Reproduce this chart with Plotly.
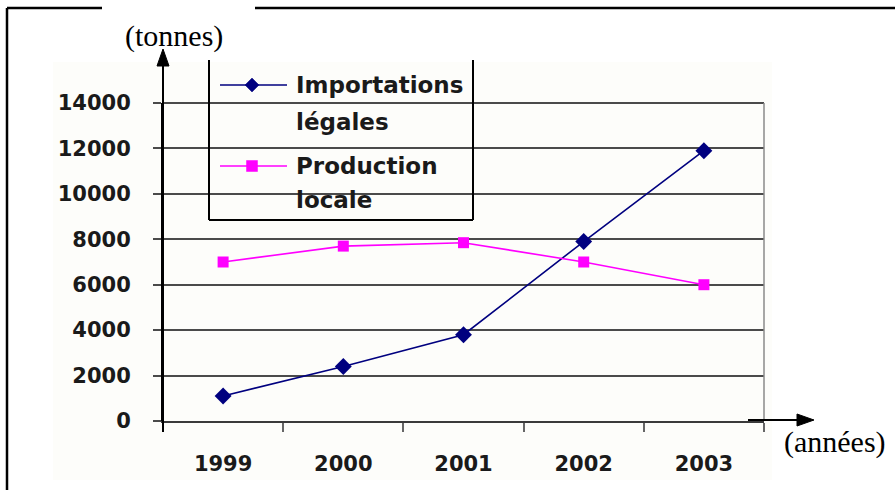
import plotly.graph_objects as go

# Data
years = ["1999", "2000", "2001", "2002", "2003"]
importations = [1100, 2400, 3800, 7900, 11900]
production = [7000, 7700, 7850, 7000, 6000]
y_ticks = [0, 2000, 4000, 6000, 8000, 10000, 12000, 14000]

W, H = 895, 490
L, R, T, B = 163, 764, 103, 421  # plot area in pixels


def px(x):
    return (x - L) / (R - L)


def py(y):
    return (B - y) / (B - T)


NAVY = "#00007F"
MAGENTA = "#FF00FF"
INK = "#1a1a1a"
GRID = "#4a4a4a"

fig = go.Figure()
fig.add_trace(go.Scatter(
    x=years, y=importations, mode="lines+markers", name="Importations légales",
    line=dict(color=NAVY, width=1.6),
    marker=dict(symbol="diamond", size=13, color=NAVY),
    showlegend=False,
))
fig.add_trace(go.Scatter(
    x=years, y=production, mode="lines+markers", name="Production locale",
    line=dict(color=MAGENTA, width=1.6),
    marker=dict(symbol="square", size=11, color=MAGENTA),
    showlegend=False,
))

shapes = []
# faint chart-area tint
shapes.append(dict(type="rect", xref="paper", yref="paper", layer="below",
                   x0=px(53), x1=px(772), y0=py(480), y1=py(62),
                   fillcolor="#fdfdfa", line=dict(width=0)))
# top gridline of the plot area
shapes.append(dict(type="line", xref="paper", yref="paper", layer="below",
                   x0=0, x1=1, y0=1, y1=1, line=dict(color=GRID, width=1.8)))
# plot-area right border
shapes.append(dict(type="line", xref="paper", yref="paper",
                   x0=1, x1=1, y0=0, y1=1, line=dict(color="#8a8a8a", width=1.5)))
# y axis with arrow
shapes.append(dict(type="line", xref="paper", yref="paper",
                   x0=0, x1=0, y0=py(432), y1=py(60), line=dict(color="black", width=2)))
shapes.append(dict(type="path", xref="paper", yref="paper",
                   path=f"M {px(163)} {py(49)} L {px(157)} {py(66)} L {px(169)} {py(66)} Z",
                   fillcolor="black", line=dict(color="black", width=1)))
# x axis arrow
shapes.append(dict(type="line", xref="paper", yref="paper",
                   x0=px(748), x1=px(800), y0=py(420), y1=py(420), line=dict(color="black", width=2)))
shapes.append(dict(type="path", xref="paper", yref="paper",
                   path=f"M {px(814)} {py(420)} L {px(797)} {py(414)} L {px(797)} {py(426)} Z",
                   fillcolor="black", line=dict(color="black", width=1)))
# outer frame
for x0, y0, x1, y1 in [(7, 8, 102, 8), (255, 8, 895, 8), (7, 8, 7, 490)]:
    shapes.append(dict(type="line", xref="paper", yref="paper",
                       x0=px(x0), x1=px(x1), y0=py(y0), y1=py(y1),
                       line=dict(color="black", width=2.5)))
# legend box (left, right, bottom edges)
for x0, y0, x1, y1 in [(209, 60, 209, 220), (473, 60, 473, 220), (209, 220, 473, 220)]:
    shapes.append(dict(type="line", xref="paper", yref="paper",
                       x0=px(x0), x1=px(x1), y0=py(y0), y1=py(y1),
                       line=dict(color="black", width=2)))
# legend samples
shapes.append(dict(type="line", xref="paper", yref="paper",
                   x0=px(220), x1=px(287), y0=py(85), y1=py(85), line=dict(color=NAVY, width=1.6)))
shapes.append(dict(type="path", xref="paper", yref="paper",
                   path=f"M {px(252)} {py(78)} L {px(259)} {py(85)} L {px(252)} {py(92)} L {px(245)} {py(85)} Z",
                   fillcolor=NAVY, line=dict(color=NAVY, width=0.5)))
shapes.append(dict(type="line", xref="paper", yref="paper",
                   x0=px(220), x1=px(287), y0=py(166), y1=py(166), line=dict(color=MAGENTA, width=1.6)))
shapes.append(dict(type="rect", xref="paper", yref="paper",
                   x0=px(246.5), x1=px(257.5), y0=py(171.5), y1=py(160.5),
                   fillcolor=MAGENTA, line=dict(color=MAGENTA, width=0.5)))

legend_font = dict(family="DejaVu Sans", size=23, color=INK, weight="bold")
serif_font = dict(family="Liberation Serif", size=30, color="black")
annotations = []
for text, y in [("Importations", 85), ("légales", 122), ("Production", 166), ("locale", 200)]:
    annotations.append(dict(text=text, xref="paper", yref="paper", x=px(294), y=py(y),
                            xanchor="left", yanchor="middle", showarrow=False, font=legend_font))
annotations.append(dict(text="(tonnes)", xref="paper", yref="paper", x=px(174), y=py(36),
                        xanchor="center", yanchor="middle", showarrow=False, font=serif_font))
annotations.append(dict(text="(années)", xref="paper", yref="paper", x=px(835), y=py(442),
                        xanchor="center", yanchor="middle", showarrow=False, font=serif_font))

tick_font = dict(family="DejaVu Sans", size=21, color=INK, weight="bold")
fig.update_layout(
    width=W, height=H, autosize=False,
    margin=dict(l=L, r=W - R, t=T, b=H - B, pad=0),
    paper_bgcolor="white", plot_bgcolor="rgba(0,0,0,0)",
    shapes=shapes, annotations=annotations,
    xaxis=dict(type="category", categoryorder="array", categoryarray=years,
               range=[-0.5, 4.5], showgrid=False, zeroline=False,
               showline=True, linecolor="#3a3a3a", linewidth=2,
               ticks="outside", tickson="boundaries", ticklen=9, tickcolor="#666", tickwidth=1.5,
               tickfont=tick_font, ticklabelstandoff=23),
    yaxis=dict(range=[0, 14000], tickvals=y_ticks, ticktext=[str(v) for v in y_ticks],
               showgrid=True, gridcolor=GRID, gridwidth=1.8, zeroline=False,
               showline=True, linecolor="black", linewidth=2,
               ticks="outside", ticklen=8, tickcolor=GRID, tickwidth=1.5,
               tickfont=tick_font, ticklabelstandoff=18),
)

fig.write_html("out.html")
